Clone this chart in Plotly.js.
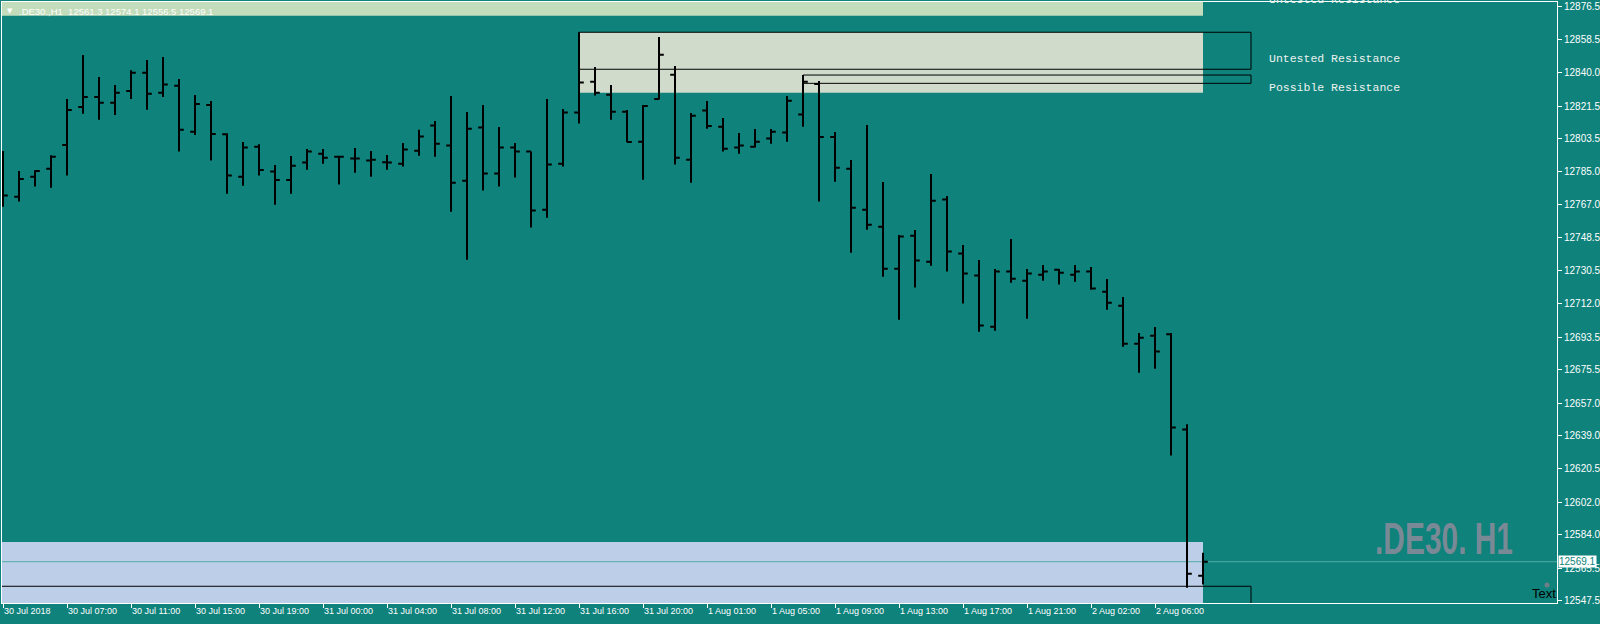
<!DOCTYPE html>
<html>
<head>
<meta charset="utf-8">
<script src="https://cdn.plot.ly/plotly-3.0.1.min.js"></script>
<style>
html,body{margin:0;padding:0;background:#0e827b;overflow:hidden;}
#chart{width:1600px;height:624px;}
</style>
</head>
<body>
<div id="chart"></div>
<script>
// ---- DATA (.DE30., H1, 30 Jul 2018 - 2 Aug 2018) ----
const opens = [12775.0, 12771.3, 12782.4, 12786.8, 12800.0, 12821.0, 12826.5, 12823.4, 12829.9, 12840.0,
  12828.9, 12832.8, 12807.3, 12822.1, 12805.9, 12782.4, 12799.0, 12785.2, 12780.6, 12790.2,
  12795.1, 12793.5, 12792.4, 12791.3, 12790.4, 12789.6, 12796.8, 12810.7, 12799.6, 12780.2,
  12809.6, 12784.1, 12798.5, 12796.3, 12764.1, 12789.6, 12817.9, 12835.0, 12827.8, 12818.4,
  12801.8, 12825.4, 12838.9, 12791.8, 12819.0, 12810.1, 12798.5, 12799.0, 12803.5, 12806.8,
  12816.9, 12833.7, 12804.4, 12786.8, 12764.1, 12754.7, 12731.4, 12749.7, 12735.3, 12769.7,
  12739.8, 12727.6, 12699.3, 12729.8, 12724.8, 12728.1, 12730.9, 12728.1, 12729.8, 12718.7,
  12710.9, 12689.9, 12694.3, 12695.1, 12642.3, 12561.3];
const highs = [12796.6, 12785.6, 12785.9, 12794.2, 12825.4, 12849.8, 12837.6, 12833.2, 12841.3, 12847.0,
  12848.7, 12836.5, 12827.6, 12824.3, 12806.4, 12801.6, 12800.3, 12788.9, 12793.9, 12797.7,
  12797.7, 12794.0, 12798.3, 12796.6, 12794.4, 12801.1, 12808.4, 12813.2, 12827.1, 12818.2,
  12822.1, 12809.9, 12801.1, 12796.4, 12825.4, 12819.9, 12862.4, 12843.2, 12833.2, 12819.3,
  12822.1, 12859.8, 12843.7, 12817.7, 12824.3, 12814.9, 12806.6, 12808.8, 12808.8, 12827.1,
  12838.7, 12835.4, 12807.2, 12791.6, 12811.0, 12779.5, 12750.1, 12752.9, 12783.9, 12771.7,
  12744.6, 12736.2, 12731.3, 12747.9, 12731.3, 12733.5, 12731.3, 12733.5, 12732.4, 12725.7,
  12715.7, 12695.8, 12699.1, 12695.8, 12645.2, 12574.1];
const lows = [12765.8, 12768.6, 12776.9, 12776.3, 12783.0, 12817.3, 12814.0, 12816.6, 12825.4, 12819.5,
  12826.5, 12796.3, 12805.5, 12791.3, 12773.0, 12777.4, 12783.0, 12766.9, 12773.0, 12786.3,
  12789.6, 12778.0, 12784.6, 12782.4, 12786.3, 12788.0, 12794.0, 12793.5, 12763.0, 12736.4,
  12774.7, 12776.9, 12781.9, 12754.2, 12759.7, 12788.0, 12811.8, 12827.3, 12814.0, 12801.4,
  12780.7, 12825.1, 12789.1, 12779.1, 12809.0, 12796.3, 12795.1, 12798.5, 12800.7, 12801.8,
  12810.1, 12768.6, 12779.6, 12740.3, 12753.0, 12727.0, 12703.2, 12721.0, 12733.1, 12729.8,
  12712.1, 12696.5, 12697.1, 12723.7, 12703.7, 12724.8, 12722.6, 12724.2, 12719.8, 12708.7,
  12688.2, 12673.8, 12676.0, 12627.9, 12554.7, 12556.5];
const closes = [12771.9, 12781.1, 12785.6, 12793.5, 12819.3, 12826.5, 12823.4, 12828.9, 12840.0, 12828.4,
  12833.4, 12808.4, 12822.7, 12806.0, 12783.0, 12798.5, 12786.1, 12780.6, 12788.5, 12796.3,
  12792.9, 12793.5, 12792.4, 12791.8, 12790.2, 12797.4, 12804.6, 12800.7, 12779.1, 12809.0,
  12784.1, 12798.5, 12796.3, 12763.6, 12789.1, 12817.9, 12834.5, 12828.9, 12818.4, 12801.6,
  12821.6, 12850.0, 12792.9, 12816.2, 12810.5, 12797.9, 12799.6, 12801.8, 12807.3, 12824.5,
  12835.0, 12804.4, 12787.4, 12765.2, 12755.8, 12731.4, 12749.2, 12735.9, 12769.1, 12740.9,
  12728.7, 12699.9, 12729.8, 12725.9, 12728.7, 12729.8, 12729.2, 12729.8, 12720.4, 12712.6,
  12689.9, 12693.2, 12685.5, 12643.4, 12562.5, 12569.1];

const timeTickBars = [0, 4, 8, 12, 16, 20, 24, 28, 32, 36, 40, 44, 48, 52, 56, 60, 64, 68, 72];
const timeTickLabels = ['30 Jul 2018', '30 Jul 07:00', '30 Jul 11:00', '30 Jul 15:00', '30 Jul 19:00',
  '31 Jul 00:00', '31 Jul 04:00', '31 Jul 08:00', '31 Jul 12:00', '31 Jul 16:00', '31 Jul 20:00',
  '1 Aug 01:00', '1 Aug 05:00', '1 Aug 09:00', '1 Aug 13:00', '1 Aug 17:00', '1 Aug 21:00',
  '2 Aug 02:00', '2 Aug 06:00'];
const priceTickLabels = ['12876.5', '12858.5', '12840.0', '12821.5', '12803.5', '12785.0', '12767.0',
  '12748.5', '12730.5', '12712.0', '12693.5', '12675.5', '12657.0', '12639.0', '12620.5', '12602.0',
  '12584.0', '12565.5', '12547.5'];

const symbolName = '.DE30.,H1';
const watermarkText = '.DE30. H1';
const lastBid = 12569.1;

// zones: [startBar, endBar, lowPrice, highPrice]
const zoneHeader = [-2, 75, 12871.6, 12900.0];
const zoneResistance = [36, 75, 12828.9, 12862.4];
const zoneSupport = [-2, 75, 12530.0, 12580.0];
// outline boxes: [startBar, endBar, lowPrice, highPrice]
const boxUntested = [36, 78, 12841.9, 12862.4];
const boxPossible = [50, 78, 12834.1, 12838.7];
const boxLower = [-2, 78, 12530.0, 12555.5];

// ---- CHART ----
const TEAL = '#0e827b';
const barIdx = opens.map((_, i) => i);

const trace = {
  type: 'ohlc',
  x: barIdx, open: opens, high: highs, low: lows, close: closes,
  increasing: {line: {color: '#000000', width: 2}},
  decreasing: {line: {color: '#000000', width: 2}},
  tickwidth: 0.3,
  hoverinfo: 'skip', showlegend: false
};

function rectShape(z, fill, lineColor, layer) {
  return {type: 'rect', xref: 'x', yref: 'y', x0: z[0], x1: z[1], y0: z[2], y1: z[3],
    fillcolor: fill, line: {color: lineColor, width: lineColor === 'rgba(0,0,0,0)' ? 0 : 1}, layer: layer};
}

const shapes = [
  rectShape(zoneHeader, '#c2dcbc', 'rgba(0,0,0,0)', 'below'),
  rectShape(zoneResistance, '#d1dbcc', 'rgba(0,0,0,0)', 'below'),
  rectShape(zoneSupport, '#bdcfe8', 'rgba(0,0,0,0)', 'below'),
  {type: 'line', xref: 'x', yref: 'y', x0: -2, x1: 200, y0: lastBid, y1: lastBid,
    line: {color: '#52aba5', width: 1}, layer: 'below'},
  rectShape(boxUntested, 'rgba(0,0,0,0)', '#000000', 'above'),
  rectShape(boxPossible, 'rgba(0,0,0,0)', '#000000', 'above'),
  rectShape(boxLower, 'rgba(0,0,0,0)', '#000000', 'above'),
  // anchor marker of the "Text" object
  {type: 'circle', xref: 'paper', yref: 'paper', xsizemode: 'pixel', ysizemode: 'pixel',
    xanchor: 0.9936, yanchor: 0.03, x0: -2.5, x1: 2.5, y0: -2.5, y1: 2.5,
    fillcolor: '#6f7f88', line: {width: 0}, layer: 'above'}
];

const annotations = [];
timeTickBars.forEach((b, i) => {
  annotations.push({xref: 'x', yref: 'paper', x: b, y: 0, xanchor: 'left', yanchor: 'top',
    yshift: -1, xshift: -1, showarrow: false, text: timeTickLabels[i],
    font: {family: 'Liberation Sans, Arial, sans-serif', size: 9, color: '#ffffff'}});
});
const monoFont = {family: 'Liberation Mono, Courier New, monospace', size: 11.5, color: '#eef2f0'};
annotations.push(
  {xref: 'x', yref: 'y', x: 79.0, y: (boxUntested[2] + boxUntested[3]) / 2 - 4.5, xanchor: 'left', yanchor: 'middle',
    showarrow: false, text: 'Untested Resistance', font: monoFont},
  {xref: 'x', yref: 'y', x: 79.0, y: (boxPossible[2] + boxPossible[3]) / 2 - 4.8, xanchor: 'left', yanchor: 'middle',
    showarrow: false, text: 'Possible Resistance', font: monoFont},
  {xref: 'x', yref: 'paper', x: 79.0, y: 1, xanchor: 'left', yanchor: 'middle', yshift: 3,
    showarrow: false, text: 'Untested Resistance', font: monoFont},
  // header
  {xref: 'paper', yref: 'paper', x: 0, y: 1, xanchor: 'left', yanchor: 'middle', xshift: 3, yshift: -9,
    showarrow: false, text: '\u25BC', font: {family: 'DejaVu Sans, sans-serif', size: 7, color: '#ffffff'}},
  {xref: 'paper', yref: 'paper', x: 0, y: 1, xanchor: 'left', yanchor: 'middle', xshift: 15, yshift: -9,
    showarrow: false,
    text: symbolName + '\u00a0\u00a0' + [opens[75], highs[75], lows[75], closes[75]].map(v => v.toFixed(1)).join(' '),
    font: {family: 'Liberation Sans, Arial, sans-serif', size: 9.5, color: '#ffffff'}},
  // watermark
  {xref: 'paper', yref: 'paper', x: 0.8815, y: 0.1065, xanchor: 'left', yanchor: 'middle',
    showarrow: false, text: watermarkText,
    font: {family: 'Liberation Sans, Arial, sans-serif', size: 44, color: '#7a8996', weight: 'bold'}},
  // "Text" label
  {xref: 'paper', yref: 'paper', x: 1, y: 0, xanchor: 'right', yanchor: 'bottom', yshift: 0, xshift: 1,
    showarrow: false, text: 'Text', font: {family: 'Liberation Sans, Arial, sans-serif', size: 13, color: '#000000'}},
  // bid price label
  {xref: 'paper', yref: 'y', x: 1, y: lastBid, xanchor: 'left', yanchor: 'middle', xshift: 1,
    showarrow: false, text: lastBid.toFixed(1), bgcolor: '#ffffff', borderpad: 0,
    font: {family: 'Liberation Sans, Arial, sans-serif', size: 10, color: TEAL}}
);

const layout = {
  width: 1600, height: 624,
  margin: {l: 2, r: 43, t: 2, b: 21, pad: 0},
  paper_bgcolor: TEAL, plot_bgcolor: TEAL,
  showlegend: false, dragmode: false,
  xaxis: {
    type: 'linear', range: [-0.0625, 97.125], autorange: false,
    tickvals: timeTickBars, ticktext: timeTickBars.map(() => ''),
    ticks: 'outside', ticklen: 4, tickcolor: '#ffffff', tickwidth: 1,
    showgrid: false, zeroline: false, showline: true, mirror: true,
    linecolor: '#ffffff', linewidth: 1, rangeslider: {visible: false}, automargin: false, fixedrange: true
  },
  yaxis: {
    side: 'right', range: [12546.23, 12879.16], autorange: false,
    tickvals: priceTickLabels.map(Number), ticktext: priceTickLabels,
    ticks: 'outside', ticklen: 4, tickcolor: '#ffffff', tickwidth: 1,
    tickfont: {family: 'Liberation Sans, Arial, sans-serif', size: 10, color: '#ffffff'},
    showgrid: false, zeroline: false, showline: true, mirror: true,
    linecolor: '#ffffff', linewidth: 1, automargin: false, fixedrange: true
  },
  shapes: shapes,
  annotations: annotations
};

function condenseWatermark() {
  document.querySelectorAll('.annotation-text').forEach(el => {
    if (el.textContent === watermarkText) {
      el.style.transformBox = 'fill-box';
      el.style.transformOrigin = 'left center';
      el.style.transform = 'scaleX(0.68)';
    }
  });
}

Plotly.newPlot('chart', [trace], layout, {displayModeBar: false, staticPlot: true}).then(condenseWatermark);
condenseWatermark();
</script>
</body>
</html>
